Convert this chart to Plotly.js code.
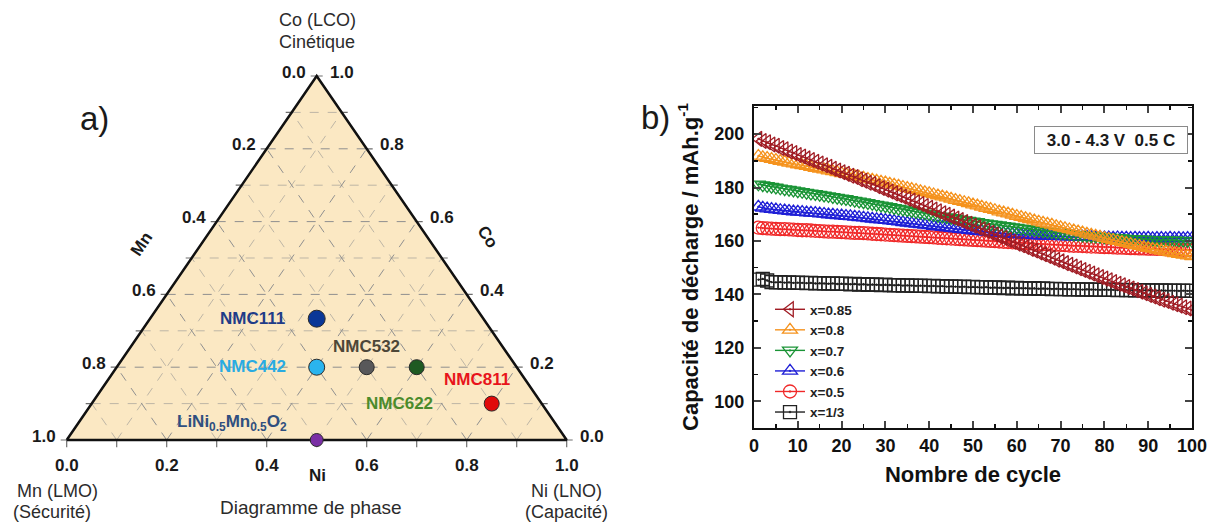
<!DOCTYPE html>
<html><head><meta charset="utf-8">
<script src="https://cdn.plot.ly/plotly-3.0.1.min.js"></script>
<style>html,body{margin:0;padding:0;background:#fff}#chart{width:1219px;height:524px}</style>
</head><body><div id="chart"></div>
<script>
// ---------- Panel a : ternary phase diagram (Ni / Mn / Co fractions) ----------
const compounds = ['NMC111','NMC442','NMC532','NMC622','NMC811','LiNi<sub>0.5</sub>Mn<sub>0.5</sub>O<sub>2</sub>'];
const niFrac = [1/3, 0.4, 0.5, 0.6, 0.8, 0.5];
const mnFrac = [1/3, 0.4, 0.3, 0.2, 0.1, 0.5];
const coFrac = [1/3, 0.2, 0.2, 0.2, 0.1, 0.0];
const compoundColors = ['#0a3797','#2ab4ee','#58585a','#1f5a22','#e00a0a','#7a2fa5'];
const labelColors = ['#1f3c88','#29abe2','#4d4738','#4b8b2b','#e8141b','#2f4f7f'];
const ternMajor = [0, 0.2, 0.4, 0.6, 0.8, 1.0];
const ternMinor = [0.1, 0.3, 0.5, 0.7, 0.9];

// ---------- Panel b : discharge capacity vs cycle number ----------
const seriesNames = ['x=1/3','x=0.5','x=0.6','x=0.7','x=0.8','x=0.85'];
const capX033 = [145.5,145.8,145.2,144.6,144.5,144.6,144.4,144.5,144.3,144.4,
144.3,144.2,144.3,144.1,144.2,144.1,144.0,144.1,143.9,144.0,
143.9,143.8,143.9,143.7,143.8,143.6,143.7,143.6,143.5,143.6,
143.5,143.4,143.5,143.3,143.4,143.3,143.2,143.3,143.2,143.1,
143.2,143.0,143.1,142.9,143.0,142.9,142.8,142.9,142.7,142.8,
142.7,142.6,142.7,142.5,142.6,142.5,142.4,142.5,142.3,142.4,
142.3,142.3,142.2,142.3,142.1,142.2,142.1,142.0,142.1,142.0,
142.0,141.9,142.0,141.9,141.8,141.9,141.8,141.8,141.7,141.8,
141.7,141.7,141.6,141.7,141.6,141.6,141.5,141.6,141.5,141.5,
141.5,141.4,141.5,141.4,141.4,141.4,141.3,141.4,141.3,141.3];
const capX05 = [165.0,164.8,164.7,164.6,164.5,164.4,164.4,164.3,164.2,164.1,
164.0,164.0,163.9,163.8,163.7,163.6,163.5,163.5,163.4,163.3,
163.2,163.1,163.0,163.0,162.9,162.8,162.7,162.6,162.5,162.4,
162.3,162.2,162.1,162.0,161.9,161.8,161.7,161.6,161.5,161.4,
161.3,161.2,161.1,161.0,160.9,160.8,160.7,160.6,160.5,160.4,
160.3,160.2,160.1,160.0,159.9,159.8,159.7,159.6,159.5,159.4,
159.3,159.2,159.1,159.0,158.9,158.8,158.7,158.6,158.6,158.5,
158.4,158.3,158.2,158.2,158.1,158.0,157.9,157.9,157.8,157.7,
157.7,157.6,157.5,157.5,157.4,157.3,157.3,157.2,157.2,157.1,
157.1,157.0,157.0,156.9,156.9,156.8,156.8,156.7,156.7,156.6];
const capX06 = [172.8,172.4,172.1,171.9,171.7,171.5,171.4,171.2,171.0,170.9,
170.8,170.6,170.5,170.4,170.2,170.1,169.9,169.8,169.6,169.5,
169.3,169.2,169.0,168.8,168.7,168.5,168.3,168.1,168.0,167.8,
167.6,167.4,167.2,167.0,166.8,166.6,166.4,166.2,166.0,165.8,
165.6,165.4,165.2,165.0,164.8,164.6,164.4,164.2,164.1,163.9,
163.7,163.6,163.4,163.3,163.1,163.0,162.8,162.7,162.6,162.5,
162.4,162.3,162.2,162.1,162.0,161.9,161.9,161.8,161.8,161.7,
161.7,161.6,161.6,161.6,161.5,161.5,161.4,161.4,161.4,161.3,
161.3,161.2,161.3,161.2,161.2,161.1,161.2,161.1,161.1,161.2,
161.0,161.1,161.1,161.0,161.2,161.0,161.1,161.0,161.1,161.0];
const capX07 = [181.2,180.9,180.6,180.3,180.0,179.7,179.4,179.2,178.9,178.6,
178.4,178.1,177.8,177.6,177.3,177.0,176.8,176.5,176.2,175.9,
175.7,175.4,175.1,174.8,174.5,174.2,173.9,173.6,173.3,173.0,
172.7,172.4,172.1,171.8,171.5,171.2,170.9,170.6,170.3,170.0,
169.7,169.4,169.2,168.9,168.6,168.4,168.1,167.8,167.6,167.3,
167.1,166.8,166.6,166.3,166.1,165.9,165.6,165.4,165.2,165.0,
164.7,164.5,164.3,164.1,163.9,163.7,163.5,163.3,163.1,162.9,
162.8,162.6,162.4,162.3,162.1,162.0,161.8,161.7,161.6,161.4,
161.3,161.2,161.1,161.0,160.9,160.8,160.7,160.6,160.6,160.5,
160.4,160.4,160.3,160.3,160.2,160.2,160.1,160.1,160.0,160.0];
const capX08 = [191.8,191.3,191.0,190.6,190.3,189.9,189.6,189.2,188.9,188.6,
188.3,188.0,187.6,187.3,187.0,186.7,186.3,186.0,185.7,185.3,
185.0,184.6,184.3,183.9,183.6,183.2,182.9,182.5,182.1,181.8,
181.4,181.0,180.6,180.2,179.8,179.4,179.0,178.6,178.2,177.8,
177.4,177.0,176.6,176.2,175.8,175.3,174.9,174.5,174.1,173.6,
173.2,172.8,172.3,171.9,171.5,171.0,170.6,170.2,169.8,169.3,
168.9,168.5,168.1,167.6,167.2,166.8,166.4,166.0,165.5,165.1,
164.7,164.3,163.9,163.5,163.1,162.7,162.3,161.9,161.5,161.1,
160.7,160.3,159.9,159.6,159.2,158.8,158.4,158.1,157.7,157.3,
157.0,156.7,156.3,156.0,155.7,155.4,155.1,154.8,154.5,154.2];
const capX085 = [198.2,197.4,196.9,196.1,195.6,194.8,194.3,193.5,192.9,192.2,
191.6,190.9,190.3,189.6,189.0,188.3,187.8,187.0,186.4,185.7,
185.1,184.4,183.9,183.1,182.5,181.8,181.3,180.5,179.8,179.2,
178.5,177.8,177.2,176.5,175.8,175.1,174.5,173.8,173.1,172.4,
171.8,171.1,170.4,169.8,169.1,168.4,167.8,167.1,166.4,165.7,
165.1,164.4,163.8,163.1,162.4,161.7,161.1,160.4,159.7,159.0,
158.4,157.7,157.0,156.4,155.7,155.0,154.4,153.7,153.0,152.4,
151.7,151.1,150.4,149.8,149.1,148.5,147.8,147.2,146.5,145.9,
145.3,144.6,144.0,143.4,142.8,142.2,141.6,141.0,140.4,139.8,
139.2,138.6,138.0,137.5,136.9,136.3,135.8,135.2,134.7,134.1];
const seriesValues = [capX033, capX05, capX06, capX07, capX08, capX085];
const seriesColors = ['#222222','#f02828','#1f1fd6','#1a9436','#f5931e','#a01c24'];
const seriesSymbols = ['square-open-dot','circle-open-dot','triangle-up-open-dot','triangle-down-open-dot','triangle-up-open-dot','triangle-left-open-dot'];
const cycleTicks = [0,10,20,30,40,50,60,70,80,90,100];
const capTicks = [100,120,140,160,180,200];

// ---------- helpers ----------
const W = 1219, H = 524;
const px = v => v / W, py = v => (H - v) / H;
const tx = (ni, co) => ni + co / 2;     // ternary -> cartesian
const FONT = 'Liberation Sans, Arial, sans-serif';
const traces = [];

// triangle background
traces.push({x:[0,1,0.5,0], y:[0,0,1,0], xaxis:'x2', yaxis:'y2', mode:'lines', fill:'toself',
  fillcolor:'#fbe8c3', line:{width:0}, hoverinfo:'skip', showlegend:false});

function gridLines(vals){
  const gx = [], gy = [];
  vals.forEach(v => {
    gx.push(v/2, 1 - v/2, null); gy.push(v, v, null);          // constant Co
    gx.push(v, v + (1-v)/2, null); gy.push(0, 1-v, null);      // constant Ni
    gx.push(1-v, (1-v)/2, null); gy.push(0, 1-v, null);        // constant Mn
  });
  return {gx, gy};
}
const gMin = gridLines(ternMinor);
traces.push({x:gMin.gx, y:gMin.gy, xaxis:'x2', yaxis:'y2', mode:'lines',
  line:{color:'#bdb5a5', width:1, dash:'dash'}, hoverinfo:'skip', showlegend:false});
const gMaj = gridLines(ternMajor.slice(1,-1));
traces.push({x:gMaj.gx, y:gMaj.gy, xaxis:'x2', yaxis:'y2', mode:'lines',
  line:{color:'#8f8f8f', width:1, dash:'dash'}, hoverinfo:'skip', showlegend:false});

// tick marks
const allTicks = ternMajor.concat(ternMinor);
const tkx = [], tky = [];
allTicks.forEach(v => {
  tkx.push(v, v, null); tky.push(0, -0.02, null);                       // bottom (Ni)
  tkx.push((1-v)/2, (1-v)/2 - 0.012, null); tky.push(1-v, 1-v, null);    // left (Mn)
  tkx.push(1 - v/2, 1 - v/2 + 0.012, null); tky.push(v, v, null);        // right (Co)
});
traces.push({x:tkx, y:tky, xaxis:'x2', yaxis:'y2', mode:'lines', cliponaxis:false,
  line:{color:'#6e6e6e', width:1.2}, hoverinfo:'skip', showlegend:false});

// triangle edges
traces.push({x:[0,1,0.5,0], y:[0,0,1,0], xaxis:'x2', yaxis:'y2', mode:'lines', cliponaxis:false,
  line:{color:'#111', width:2.5}, hoverinfo:'skip', showlegend:false});

// compositions
traces.push({x:niFrac.map((n,i)=>tx(n, coFrac[i])), y:coFrac, xaxis:'x2', yaxis:'y2',
  mode:'markers', cliponaxis:false, text:compounds, hoverinfo:'text', showlegend:false,
  marker:{size:[17,16,15,15,15,13], opacity:1, color:compoundColors, line:{color:'#2a2a2a', width:1}}});

// capacity curves
const cycles = capX085.map((_, i) => i + 1);
seriesValues.forEach((vals, i) => {
  traces.push({x:cycles, y:vals, xaxis:'x', yaxis:'y', name:seriesNames[i], mode:'lines+markers',
    line:{color:seriesColors[i], width:1.4},
    marker:{symbol:seriesSymbols[i], size:13, color:seriesColors[i], line:{color:seriesColors[i], width:1.3}}});
});

// ---------- annotations ----------
const ann = [];
const tickFont = {family:FONT, size:17, color:'#1a1a1a', weight:'bold'};
ternMajor.forEach(v => {
  const t = v.toFixed(1);
  ann.push({xref:'x2', yref:'y2', x:v, y:0, text:t, showarrow:false, xanchor:'center', yanchor:'top', yshift:-14, font:tickFont});
  ann.push({xref:'x2', yref:'y2', x:(1-v)/2, y:1-v, text:t, showarrow:false, xanchor:'right', yanchor:'middle', xshift:-9, yshift:4, font:tickFont});
  ann.push({xref:'x2', yref:'y2', x:1-v/2, y:v, text:t, showarrow:false, xanchor:'left', yanchor:'middle', xshift:11, yshift:4, font:tickFont});
});
const labelOffsets = [[-30,0,'right'],[-29,1,'right'],[0,21,'center'],[-17,-36,'center'],[-15,24,'center'],[-85,17,'center']];
compounds.forEach((c, i) => {
  const o = labelOffsets[i];
  ann.push({xref:'x2', yref:'y2', x:tx(niFrac[i], coFrac[i]), y:coFrac[i], text:c, showarrow:false,
    xanchor:o[2], yanchor:'middle', xshift:o[0], yshift:o[1],
    font:{family:FONT, size:17, color:labelColors[i], weight:'bold'}});
});
const plain = (s, c) => ({family:FONT, size:s, color:c || '#2b2b2b'});
const paperText = (x, y, text, font, extra) => Object.assign({xref:'paper', yref:'paper', x:px(x), y:py(y), text, showarrow:false, xanchor:'center', yanchor:'middle', font}, extra || {});
ann.push(paperText(317, 20, 'Co (LCO)', plain(18)));
ann.push(paperText(317, 42, 'Cinétique', plain(18)));
ann.push(paperText(57, 491, 'Mn (LMO)', plain(18)));
ann.push(paperText(52, 512, '(Sécurité)', plain(18)));
ann.push(paperText(566, 491, 'Ni (LNO)', plain(18)));
ann.push(paperText(566, 512, '(Capacité)', plain(18)));
ann.push(paperText(311, 507, 'Diagramme de phase', plain(19)));
ann.push(paperText(317, 475, 'Ni', {family:FONT, size:17, color:'#1a1a1a', weight:'bold'}));
ann.push(paperText(141, 244, 'Mn', {family:FONT, size:17, color:'#1a1a1a', weight:'bold'}, {textangle:-56}));
ann.push(paperText(487, 237, 'Co', {family:FONT, size:17, color:'#1a1a1a', weight:'bold'}, {textangle:56}));
ann.push(paperText(94, 118, 'a)', plain(33, '#1a1a1a')));
ann.push(paperText(655, 117, 'b)', plain(33, '#1a1a1a')));
ann.push({xref:'paper', yref:'paper', x:px(1111), y:py(140), text:'3.0 - 4.3 V  0.5 C', showarrow:false,
  xanchor:'center', yanchor:'middle', font:{family:FONT, size:17, color:'#1a1a1a', weight:'bold'},
  bordercolor:'#8a8a8a', borderwidth:1, borderpad:3, bgcolor:'#ffffff', width:146, height:20});

const axFont = {family:FONT, size:18, color:'#111', weight:'bold'};
const layout = {
  width:W, height:H, margin:{l:0, r:0, t:0, b:0},
  paper_bgcolor:'#ffffff', plot_bgcolor:'rgba(0,0,0,0)', showlegend:true,
  font:{family:FONT},
  xaxis:{domain:[px(754), px(1192)], range:[0,100], tickvals:cycleTicks, ticks:'inside', ticklen:7, tickwidth:2,
    showline:true, linewidth:2, linecolor:'#111', mirror:'allticks', showgrid:false, zeroline:false,
    minor:{dtick:5, tick0:0, ticks:'inside', ticklen:4, tickwidth:1.5, tickcolor:'#111'},
    tickfont:axFont, title:{text:'Nombre de cycle', font:{family:FONT, size:22, color:'#111', weight:'bold'}, standoff:12}},
  yaxis:{domain:[py(428), py(106)], range:[90,210.5], tickvals:capTicks, ticks:'inside', ticklen:7, tickwidth:2,
    showline:true, linewidth:2, linecolor:'#111', mirror:'allticks', showgrid:false, zeroline:false,
    minor:{dtick:10, tick0:0, ticks:'inside', ticklen:4, tickwidth:1.5, tickcolor:'#111'},
    tickfont:axFont, ticklabelstandoff:4,
    title:{text:'Capacité de décharge / mAh.g<sup>-1</sup>', font:{family:FONT, size:22, color:'#111', weight:'bold'}, standoff:10}},
  xaxis2:{domain:[px(16.7), px(616.7)], range:[-0.1,1.1], visible:false, fixedrange:true},
  yaxis2:{domain:[py(476.4), py(39.6)], range:[-0.1,1.1], visible:false, fixedrange:true},
  legend:{x:px(770), y:py(294), xanchor:'left', yanchor:'top', traceorder:'reversed', bgcolor:'rgba(0,0,0,0)',
    font:{family:FONT, size:13.5, color:'#222', weight:'bold'}, itemwidth:30, tracegroupgap:0},
  annotations:ann
};
Plotly.newPlot('chart', traces, layout, {displayModeBar:false, staticPlot:true});
</script></body></html>
